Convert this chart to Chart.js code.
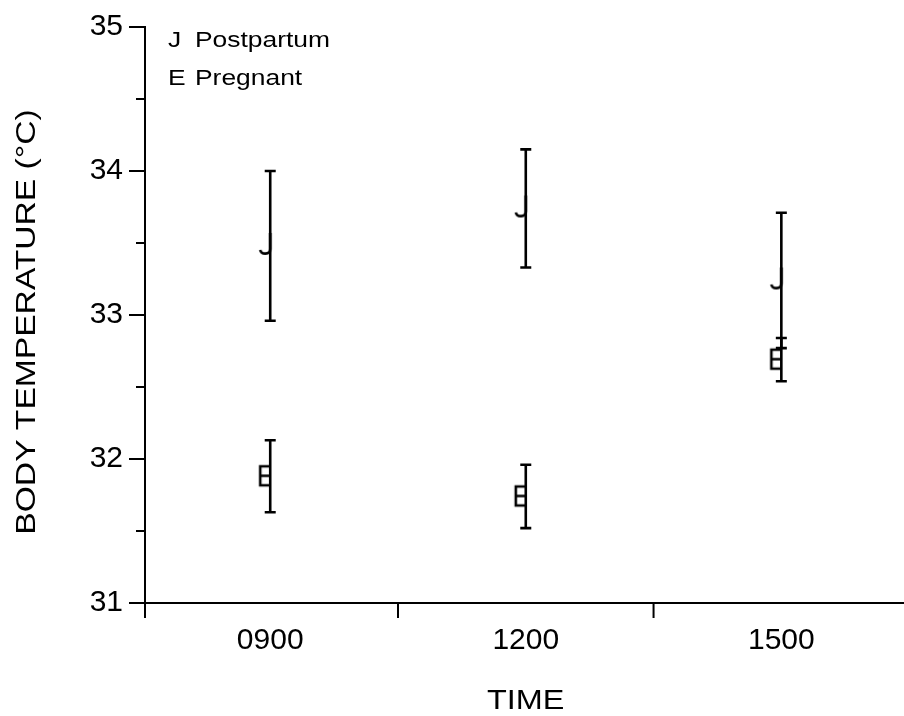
<!DOCTYPE html>
<html>
<head>
<meta charset="utf-8">
<script src="https://cdn.jsdelivr.net/npm/chart.js@4.4.1/dist/chart.umd.min.js"></script>
<style>
  html, body { margin: 0; padding: 0; background: #fff; }
  canvas { display: block; }
</style>
</head>
<body>
<canvas id="tempChart" width="904" height="716"></canvas>
<script>
const times = ['0900', '1200', '1500'];
const postpartum = [33.48, 33.74, 33.24];
const postpartumErr = [0.52, 0.41, 0.47];
const pregnant = [31.88, 31.74, 32.69];
const pregnantErr = [0.25, 0.22, 0.15];
const yTicks = [31, 32, 33, 34, 35];

const FONT = '"Liberation Sans", Arial, sans-serif';

// marker glyphs, drawn once and used as pointStyle
function makeMarker(kind) {
    const c = document.createElement('canvas');
    c.width = 30; c.height = 30;
    const g = c.getContext('2d');
    g.strokeStyle = '#000';
    g.lineWidth = 2.6;
    g.beginPath();
    if (kind === 'J') {
        g.moveTo(15, 2);
        g.lineTo(15, 18);
        g.bezierCurveTo(15, 24, 6, 24, 5, 19);
    } else {
        g.moveTo(15, 5); g.lineTo(5, 5); g.lineTo(5, 24); g.lineTo(15, 24);
        g.moveTo(5, 14.5); g.lineTo(15, 14.5);
    }
    g.stroke();
    return c;
}

// the original's title/legend type is a bit wider than Arial
function wideText(ctx, text, x, y, size, align, rot) {
    ctx.save();
    ctx.translate(x, y);
    if (rot) ctx.rotate(rot);
    ctx.scale(1.2, 1);
    ctx.font = size + 'px ' + FONT;
    ctx.textAlign = align;
    ctx.textBaseline = 'alphabetic';
    ctx.fillText(text, 0, 0);
    ctx.restore();
}

const errors = [postpartumErr, pregnantErr];

const axisMarks = {
    id: 'axisMarks',
    afterDatasetsDraw(chart) {
        const ctx = chart.ctx;
        const x = chart.scales.x, y = chart.scales.y;
        const area = chart.chartArea;
        ctx.save();
        ctx.strokeStyle = '#000';
        ctx.fillStyle = '#000';

        // error bars
        ctx.lineWidth = 2.6;
        chart.data.datasets.forEach((ds, di) => {
            ds.data.forEach((p, i) => {
                const px = x.getPixelForValue(p.x);
                const top = y.getPixelForValue(p.y + errors[di][i]);
                const bot = y.getPixelForValue(p.y - errors[di][i]);
                ctx.beginPath();
                ctx.moveTo(px, top); ctx.lineTo(px, bot);
                ctx.moveTo(px - 5.5, top); ctx.lineTo(px + 5.5, top);
                ctx.moveTo(px - 5.5, bot); ctx.lineTo(px + 5.5, bot);
                ctx.stroke();
            });
        });

        // y ticks: long at integers, short at halves
        ctx.lineWidth = 2;
        yTicks.forEach((v, i) => {
            const py = y.getPixelForValue(v);
            ctx.beginPath();
            ctx.moveTo(area.left - 16, py); ctx.lineTo(area.left, py);
            if (i < yTicks.length - 1) {
                const pm = y.getPixelForValue(v + 0.5);
                ctx.moveTo(area.left - 9, pm); ctx.lineTo(area.left, pm);
            }
            ctx.stroke();
        });

        // x ticks at the category boundaries
        ctx.beginPath();
        ctx.moveTo(area.left, area.bottom); ctx.lineTo(area.left, area.bottom + 15);
        [0.5, 1.5].forEach(v => {
            const px = x.getPixelForValue(v);
            ctx.moveTo(px, area.bottom); ctx.lineTo(px, area.bottom + 15);
        });
        ctx.stroke();

        // axis titles
        wideText(ctx, 'TIME', x.getPixelForValue(1), 709, 27, 'center');
        wideText(ctx, 'BODY TEMPERATURE (°C)', 35, 322, 28, 'center', -Math.PI / 2);

        // legend
        wideText(ctx, 'J', area.left + 23, 47, 22, 'left');
        wideText(ctx, 'Postpartum', area.left + 50, 47, 22, 'left');
        wideText(ctx, 'E', area.left + 23, 85, 22, 'left');
        wideText(ctx, 'Pregnant', area.left + 50, 85, 22, 'left');
        ctx.restore();
    }
};

new Chart(document.getElementById('tempChart'), {
    type: 'scatter',
    data: {
        datasets: [
            {
                label: 'Postpartum',
                data: postpartum.map((v, i) => ({ x: i, y: v })),
                pointStyle: makeMarker('J'),
                pointRadius: 10
            },
            {
                label: 'Pregnant',
                data: pregnant.map((v, i) => ({ x: i, y: v })),
                pointStyle: makeMarker('E'),
                pointRadius: 10
            }
        ]
    },
    options: {
        responsive: false,
        animation: false,
        layout: { autoPadding: false, padding: { top: 27, right: 0, left: 0, bottom: 0 } },
        plugins: { legend: { display: false }, tooltip: { enabled: false } },
        scales: {
            x: {
                type: 'linear',
                min: -0.49,
                max: 2.48,
                afterBuildTicks: s => { s.ticks = times.map((t, i) => ({ value: i })); },
                afterFit: s => { s.height = 113; s.paddingLeft = 0; s.paddingRight = 0; },
                grid: { display: false, drawTicks: false },
                border: { display: true, color: '#000', width: 2 },
                ticks: {
                    callback: v => times[v],
                    color: '#000',
                    font: { family: FONT, size: 30 },
                    padding: 20,
                    maxRotation: 0
                }
            },
            y: {
                min: 31,
                max: 35,
                afterBuildTicks: s => { s.ticks = yTicks.map(v => ({ value: v })); },
                afterFit: s => { s.width = 145; s.paddingTop = 0; s.paddingBottom = 0; },
                grid: { display: false, drawTicks: false },
                border: { display: true, color: '#000', width: 2 },
                ticks: {
                    color: '#000',
                    font: { family: FONT, size: 30 },
                    padding: 22
                }
            }
        }
    },
    plugins: [axisMarks]
});
</script>
</body>
</html>
